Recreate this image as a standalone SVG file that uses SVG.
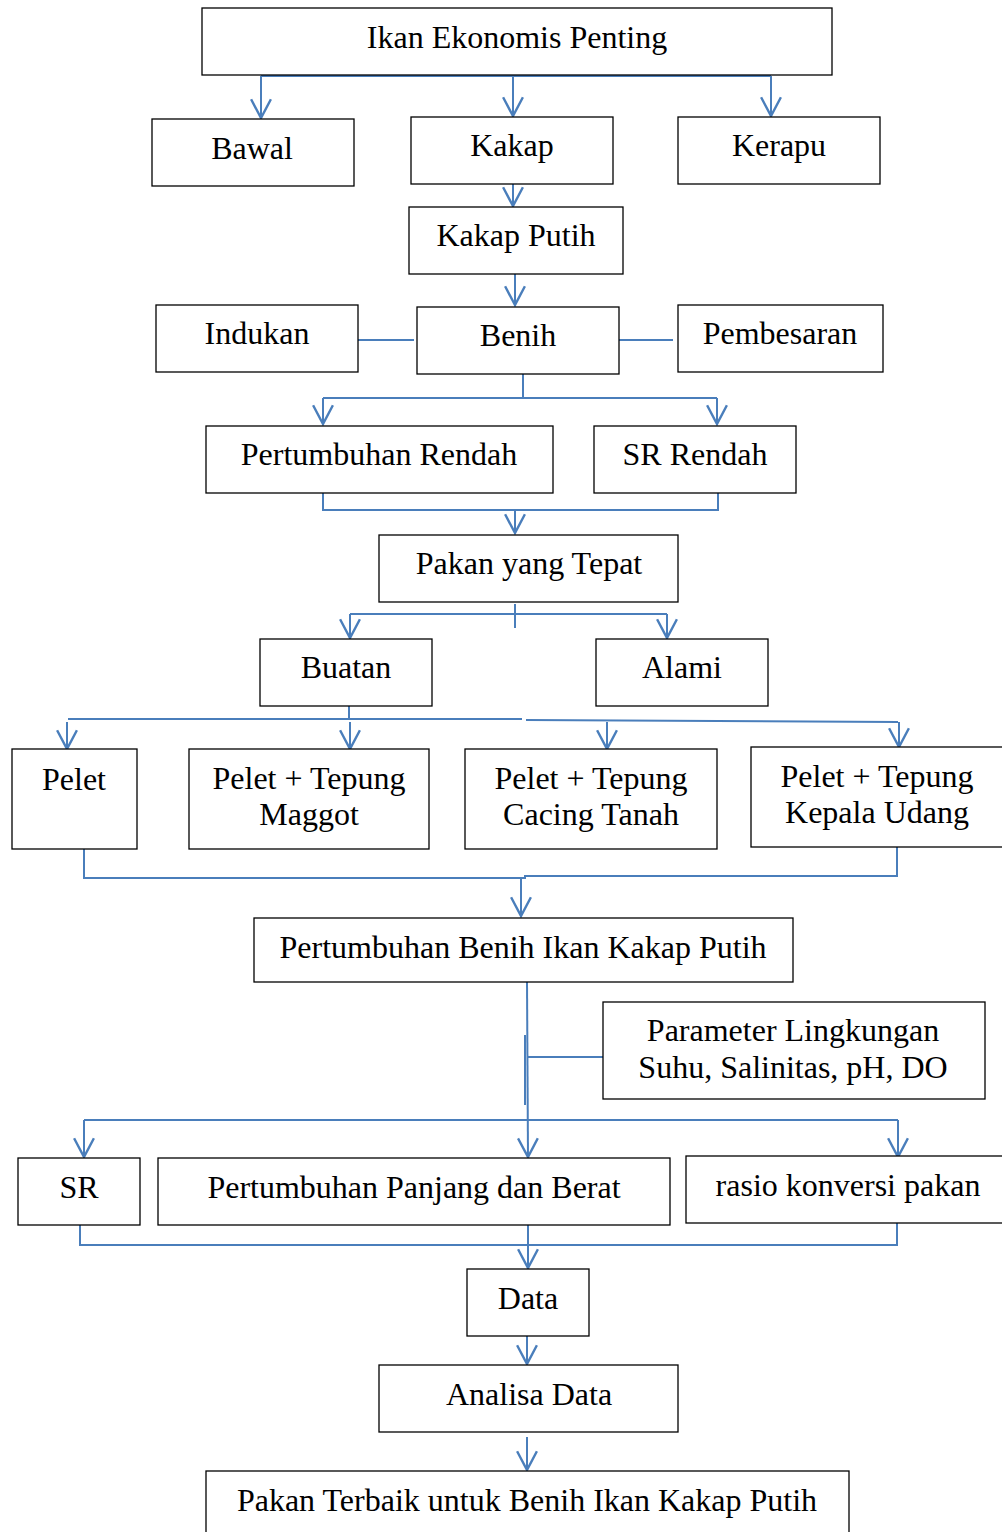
<svg xmlns="http://www.w3.org/2000/svg" width="1002" height="1532" viewBox="0 0 1002 1532">
<style>
.b{fill:#fff;stroke:#000;stroke-width:1.3}
.t{font-family:"Liberation Serif","Times New Roman",serif;font-size:32px;fill:#000;text-anchor:middle;dominant-baseline:central}
.c{fill:none;stroke:#4a7ebb;stroke-width:2}
.a{marker-end:url(#arr)}
</style>
<defs>
<marker id="arr" markerUnits="userSpaceOnUse" markerWidth="22" markerHeight="22" viewBox="0 0 20 20" refX="18" refY="10" orient="auto">
<path d="M1,1 L18,10 L1,19" fill="none" stroke="#4a7ebb" stroke-width="2.2"/>
</marker>
</defs>
<rect width="1002" height="1532" fill="#fff"/>
<g id="connectors">
<path class="c" d="M261,76 H771"/>
<path class="c a" d="M261,76 V118"/>
<path class="c a" d="M513,76 V116"/>
<path class="c a" d="M771,76 V116"/>
<path class="c a" d="M513,184 V206"/>
<path class="c a" d="M515,274 V305"/>
<path class="c" d="M358,340 H414"/>
<path class="c" d="M619,340 H673"/>
<path class="c" d="M523,374 V398 M323,398 H717"/>
<path class="c a" d="M323,398 V424"/>
<path class="c a" d="M717,398 V424"/>
<path class="c" d="M323,493 V510 H718 V493"/>
<path class="c a" d="M515,510 V533"/>
<path class="c" d="M515,604 V628 M350,614 H667"/>
<path class="c a" d="M350,614 V638"/>
<path class="c a" d="M667,614 V638"/>
<path class="c" d="M349,706 V718 M68,719 H522 M526,720 L898,722"/>
<path class="c a" d="M67,722 V749"/>
<path class="c a" d="M350,722 V749"/>
<path class="c a" d="M607,722 V749"/>
<path class="c a" d="M899,722 V747"/>
<path class="c" d="M84,849 V878 H525 V876 H897 V847"/>
<path class="c a" d="M521,878 V916"/>
<path class="c a" d="M527,982 L528,1157"/>
<path class="c" d="M525,1035 V1105 M527,1057 H603"/>
<path class="c" d="M84,1120 H898"/>
<path class="c a" d="M84,1120 V1157"/>
<path class="c a" d="M898,1120 V1157"/>
<path class="c" d="M80,1225 V1245 H897 V1223"/>
<path class="c a" d="M528,1225 V1268"/>
<path class="c a" d="M527,1336 V1364"/>
<path class="c a" d="M527,1437 V1470"/>
</g>
<g id="n1"><rect class="b" x="202" y="8" width="630" height="67"/><text class="t" x="517" y="37">Ikan Ekonomis Penting</text></g>
<g id="n2"><rect class="b" x="152" y="119" width="202" height="67"/><text class="t" x="252" y="148">Bawal</text></g>
<g id="n3"><rect class="b" x="411" y="117" width="202" height="67"/><text class="t" x="512" y="145">Kakap</text></g>
<g id="n4"><rect class="b" x="678" y="117" width="202" height="67"/><text class="t" x="779" y="145">Kerapu</text></g>
<g id="n5"><rect class="b" x="409" y="207" width="214" height="67"/><text class="t" x="516" y="235">Kakap Putih</text></g>
<g id="n6"><rect class="b" x="156" y="305" width="202" height="67"/><text class="t" x="257" y="333">Indukan</text></g>
<g id="n7"><rect class="b" x="417" y="307" width="202" height="67"/><text class="t" x="518" y="335">Benih</text></g>
<g id="n8"><rect class="b" x="678" y="305" width="205" height="67"/><text class="t" x="780" y="333">Pembesaran</text></g>
<g id="n9"><rect class="b" x="206" y="426" width="347" height="67"/><text class="t" x="379" y="454">Pertumbuhan Rendah</text></g>
<g id="n10"><rect class="b" x="594" y="426" width="202" height="67"/><text class="t" x="695" y="454">SR Rendah</text></g>
<g id="n11"><rect class="b" x="379" y="535" width="299" height="67"/><text class="t" x="529" y="563">Pakan yang Tepat</text></g>
<g id="n12"><rect class="b" x="260" y="639" width="172" height="67"/><text class="t" x="346" y="667">Buatan</text></g>
<g id="n13"><rect class="b" x="596" y="639" width="172" height="67"/><text class="t" x="682" y="667">Alami</text></g>
<g id="n14"><rect class="b" x="12" y="749" width="125" height="100"/><text class="t" x="74" y="779">Pelet</text></g>
<g id="n15"><rect class="b" x="189" y="749" width="240" height="100"/><text class="t" x="309" y="778">Pelet + Tepung</text><text class="t" x="309" y="814">Maggot</text></g>
<g id="n16"><rect class="b" x="465" y="749" width="252" height="100"/><text class="t" x="591" y="778">Pelet + Tepung</text><text class="t" x="591" y="814">Cacing Tanah</text></g>
<g id="n17"><rect class="b" x="751" y="747" width="260" height="100"/><text class="t" x="877" y="776">Pelet + Tepung</text><text class="t" x="877" y="812">Kepala Udang</text></g>
<g id="n18"><rect class="b" x="254" y="918" width="539" height="64"/><text class="t" x="523" y="947">Pertumbuhan Benih Ikan Kakap Putih</text></g>
<g id="n19"><rect class="b" x="603" y="1002" width="382" height="97"/><text class="t" x="793" y="1030">Parameter Lingkungan</text><text class="t" x="793" y="1067">Suhu, Salinitas, pH, DO</text></g>
<g id="n20"><rect class="b" x="18" y="1158" width="122" height="67"/><text class="t" x="79" y="1187">SR</text></g>
<g id="n21"><rect class="b" x="158" y="1158" width="512" height="67"/><text class="t" x="414" y="1187">Pertumbuhan Panjang dan Berat</text></g>
<g id="n22"><rect class="b" x="686" y="1156" width="325" height="67"/><text class="t" x="848" y="1185">rasio konversi pakan</text></g>
<g id="n23"><rect class="b" x="467" y="1269" width="122" height="67"/><text class="t" x="528" y="1298">Data</text></g>
<g id="n24"><rect class="b" x="379" y="1365" width="299" height="67"/><text class="t" x="529" y="1394">Analisa Data</text></g>
<g id="n25"><rect class="b" x="206" y="1471" width="643" height="70"/><text class="t" x="527" y="1500">Pakan Terbaik untuk Benih Ikan Kakap Putih</text></g>
</svg>
